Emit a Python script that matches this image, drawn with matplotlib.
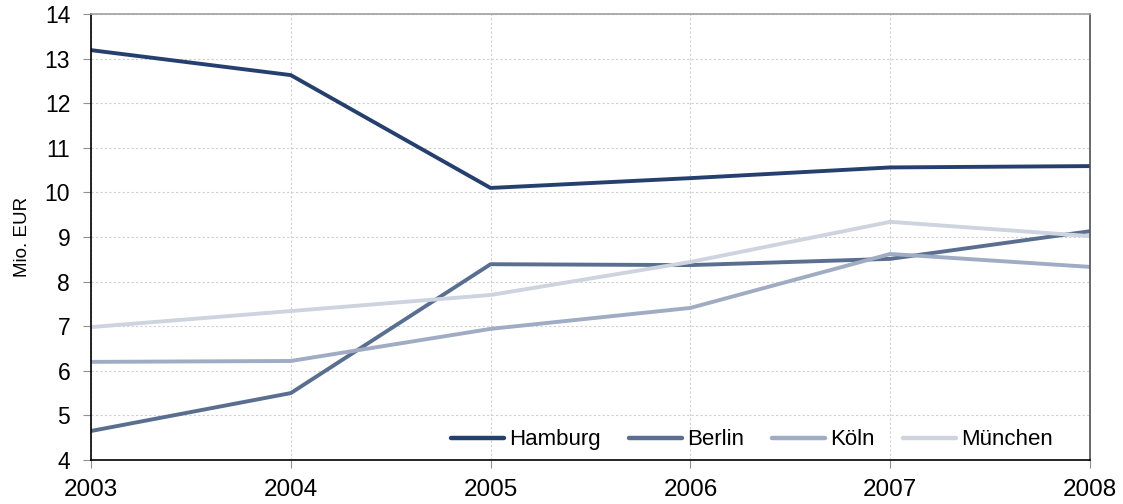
import matplotlib.pyplot as plt
import numpy as np

years = [2003, 2004, 2005, 2006, 2007, 2008]
hamburg = [13.19, 12.63, 10.10, 10.32, 10.56, 10.59]
berlin = [4.65, 5.50, 8.39, 8.37, 8.51, 9.13]
koeln = [6.20, 6.22, 6.94, 7.41, 8.62, 8.33]
muenchen = [6.98, 7.34, 7.70, 8.44, 9.34, 9.02]

series = [('Hamburg', hamburg, '#253f6e'),
          ('Berlin', berlin, '#5a6e90'),
          ('Köln', koeln, '#a0acc3'),
          ('München', muenchen, '#cdd4e0')]

plt.rcParams['font.family'] = ['Liberation Sans', 'DejaVu Sans']

fig = plt.figure(figsize=(11.23, 5.04), dpi=100)
ax = fig.add_axes([0.081, 0.0873, 0.8896, 0.8849])

for name, vals, col in series:
    ax.plot(years, vals, color=col, lw=2.8, label=name)

ax.set_xlim(2003, 2008)
ax.set_ylim(4, 14)
ax.set_xticks(years)
ax.set_yticks(range(4, 15))
ax.grid(True, color='#d0d0d0', linestyle=(0, (2, 2)), linewidth=0.8)
ax.set_axisbelow(True)

ax.spines['left'].set_color('black')
ax.spines['bottom'].set_color('black')
ax.spines['top'].set_color('#a0a0a0')
ax.spines['right'].set_color('#505050')
for s in ax.spines.values():
    s.set_linewidth(1.2)

ax.tick_params(axis='both', direction='out', length=6, color='#909090')
ax.tick_params(axis='y', labelsize=16.5, pad=9)
ax.tick_params(axis='x', labelsize=17.5, pad=8)

ax.set_ylabel('Mio. EUR', fontsize=13.5, labelpad=10)

leg = ax.legend(loc='center right', ncol=4, frameon=False, handlelength=2.4,
                handletextpad=0.23, columnspacing=1.25, borderaxespad=0, borderpad=0,
                bbox_to_anchor=(0.963, 0.045),
                prop={'size': 16})
for line in leg.get_lines():
    line.set_linewidth(3.2)
    line.set_solid_capstyle('round')

fig.savefig('out.png', dpi=100)
